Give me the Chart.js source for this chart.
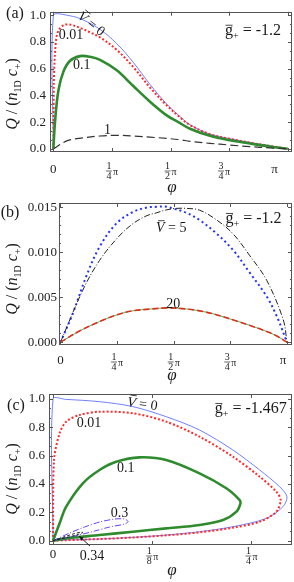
<!DOCTYPE html>
<html>
<head>
<meta charset="utf-8">
<script src="https://cdn.jsdelivr.net/npm/chart.js@4.4.1/dist/chart.umd.min.js"></script>
<style>
  html, body { margin: 0; padding: 0; background: #fff; }
  #wrap { position: relative; width: 294px; height: 582px; overflow: hidden; }
  .panel { position: absolute; left: 0; width: 294px; }
</style>
</head>
<body>
<div id="wrap">
  <div class="panel" style="top:0;height:195px"><canvas id="chart-a"></canvas></div>
  <div class="panel" style="top:192px;height:192px"><canvas id="chart-b"></canvas></div>
  <div class="panel" style="top:380px;height:202px"><canvas id="chart-c"></canvas></div>
</div>
<script>
const PI = Math.PI;
const SERIF = '"Liberation Serif", "Times New Roman", serif';

// =============== DATA ===============

// (a) g+ = -1.2
const aPhiV0 = [0, 0, 0.224, 0.40, 0.626, 0.85, 1.072, 1.296, 1.52, 1.70, 1.832, 2.10, 2.368, 2.636, 2.90, PI];
const aQV0   = [0, 1.0, 0.996, 0.965, 0.894, 0.788, 0.647, 0.482, 0.335, 0.24, 0.18, 0.11, 0.076, 0.047, 0.023, 0];
const aPhiV001 = [0, 0.004, 0.01, 0.036, 0.067, 0.134, 0.224, 0.358, 0.50, 0.626, 0.85, 1.072, 1.296, 1.52, 1.70, 1.832, 2.10, 2.368, 2.636, 2.90, PI];
const aQV001   = [0, 0.35, 0.576, 0.812, 0.883, 0.925, 0.93, 0.906, 0.87, 0.835, 0.741, 0.612, 0.459, 0.325, 0.235, 0.178, 0.109, 0.075, 0.046, 0.022, 0];
const aPhiV01 = [0, 0.022, 0.067, 0.134, 0.224, 0.358, 0.492, 0.626, 0.85, 1.072, 1.296, 1.52, 1.676, 1.832, 2.10, 2.368, 2.636, 2.90, PI];
const aQV01   = [0, 0.2, 0.435, 0.576, 0.659, 0.694, 0.689, 0.666, 0.588, 0.47, 0.353, 0.25, 0.2, 0.15, 0.097, 0.064, 0.04, 0.017, 0];
const aPhiV1 = [0, 0.18, 0.40, 0.626, 0.85, 1.072, 1.296, 1.52, 1.70, 1.832, 2.10, 2.368, 2.636, 2.90, PI];
const aQV1   = [0, 0.059, 0.082, 0.096, 0.101, 0.096, 0.087, 0.078, 0.068, 0.056, 0.041, 0.028, 0.016, 0.007, 0];

// (b) g+ = -1.2, large V
const bPhiV5a = [0, 0.171, 0.356, 0.541, 0.773, 1.005, 1.2, 1.33, 1.45, 1.56, 1.75, 1.93, 2.15, 2.39, 2.62, 2.86, 3.0, PI];
const bQV5a   = [0, 0.0032, 0.0073, 0.0106, 0.0132, 0.0145, 0.0150, 0.01507, 0.0151, 0.0149, 0.0144, 0.0136, 0.0122, 0.0103, 0.0078, 0.0051, 0.0029, 0];
const bPhiV5b = [0, 0.31, 0.541, 0.8, 1.005, 1.2, 1.33, 1.45, 1.6, 1.75, 1.93, 2.15, 2.39, 2.62, 2.86, 3.09, PI];
const bQV5b   = [0, 0.0058, 0.0091, 0.0117, 0.0132, 0.0141, 0.0144, 0.0147, 0.0149, 0.0149, 0.0147, 0.0137, 0.0121, 0.0097, 0.0069, 0.0025, 0];
const bPhiV20 = [0, 0.25, 0.54, 0.8, 1.0, 1.25, 1.5, 1.75, 1.93, 2.15, 2.39, 2.62, 2.86, 3.0, PI];
const bQV20   = [0, 0.0012, 0.0023, 0.0031, 0.0035, 0.0037, 0.00383, 0.0037, 0.0035, 0.0031, 0.0025, 0.0019, 0.0012, 0.0007, 0];

// (c) g+ = -1.467, closed loops
const cPhiV0 = [0, 0, 0.05, 0.184, 0.316, 0.448, 0.58, 0.712, 0.818, 0.897, 0.926, 0.91, 0.845, 0.712, 0.58, 0.448, 0.316, 0.184, 0.052, 0];
const cQV0   = [0, 1.0, 0.997, 0.981, 0.946, 0.875, 0.781, 0.64, 0.499, 0.381, 0.31, 0.24, 0.158, 0.099, 0.064, 0.04, 0.024, 0.012, 0.005, 0];
const cPhiV001 = [0, 0.004, 0.026, 0.052, 0.105, 0.184, 0.316, 0.448, 0.58, 0.712, 0.818, 0.884, 0.901, 0.884, 0.818, 0.712, 0.58, 0.448, 0.316, 0.184, 0.052, 0];
const cQV001   = [0, 0.57, 0.758, 0.84, 0.887, 0.91, 0.899, 0.84, 0.734, 0.593, 0.452, 0.346, 0.287, 0.205, 0.134, 0.092, 0.059, 0.038, 0.023, 0.012, 0.004, 0];
const cPhiV01 = [0, 0.026, 0.052, 0.118, 0.184, 0.25, 0.342, 0.448, 0.58, 0.686, 0.739, 0.742, 0.726, 0.673, 0.58, 0.448, 0.316, 0.184, 0.052, 0];
const cQV01   = [0, 0.123, 0.24, 0.405, 0.499, 0.557, 0.588, 0.569, 0.475, 0.37, 0.287, 0.264, 0.205, 0.146, 0.111, 0.087, 0.064, 0.04, 0.017, 0];
const cPhiV03 = [0, 0.065, 0.125, 0.184, 0.244, 0.283, 0.297, 0.283, 0.224, 0.164, 0.085, 0];
const cQV03   = [0, 0.054, 0.097, 0.132, 0.153, 0.153, 0.135, 0.118, 0.097, 0.068, 0.033, 0];
const cPhiV034 = [0, 0.04, 0.08, 0.11, 0.118, 0.1, 0.06, 0];
const cQV034   = [0, 0.025, 0.048, 0.06, 0.058, 0.045, 0.025, 0];

// ticks
const xTicksA = [0, PI / 4, PI / 2, 3 * PI / 4, PI];
const xLabelsA = ['0', '1/4', '1/2', '3/4', 'π'];
const xTicksC = [0, PI / 8, PI / 4];
const xLabelsC = ['0', '1/8', '1/4'];
const yTicksA = [0, 0.2, 0.4, 0.6, 0.8, 1.0];
const yTicksB = [0, 0.005, 0.010, 0.015];
const yMinorA = [1, 2, 4, 5, 7, 8, 10, 11, 13, 14].map(k => k / 15);
const yMinorB = [1, 2, 3, 4, 6, 7, 8, 9, 11, 12, 13, 14].map(k => k / 1000);

// =============== HELPERS ===============

function pts(xs, ys) {
  return xs.map((x, i) => ({ x, y: ys[i] }));
}

function line(label, xs, ys, color, width, dash, tension = 0.35) {
  return {
    label, data: pts(xs, ys), showLine: true, pointRadius: 0,
    borderColor: color, backgroundColor: color, borderWidth: width,
    borderDash: dash || [], tension, fill: false
  };
}

// draw text pieces left to right; p.bar draws a macron over the piece
function drawRich(ctx, parts, x, y, align) {
  let w = 0;
  parts.forEach(p => { ctx.font = p.font; p.w = ctx.measureText(p.text).width; w += p.w; });
  let cx = align === 'center' ? x - w / 2 : (align === 'right' ? x - w : x);
  parts.forEach(p => {
    ctx.font = p.font;
    ctx.fillText(p.text, cx, y + (p.dy || 0));
    if (p.bar) {
      ctx.beginPath();
      ctx.moveTo(cx + p.bar[0], y - p.bar[2]);
      ctx.lineTo(cx + p.w + p.bar[1], y - p.bar[2]);
      ctx.stroke();
    }
    cx += p.w;
  });
}

const f = (size, style) => `${style ? style + ' ' : ''}${size}px ${SERIF}`;

function vbar(val, size) {
  return [
    { text: 'V', font: f(size, 'italic'), bar: [2, 0, size * 0.82] },
    { text: ' = ' + val, font: f(size) }
  ];
}
function gbar(val) {
  return [
    { text: 'g', font: f(16), bar: [0.5, -0.5, 10] },
    { text: '+', font: f(10), dy: 4 },
    { text: ' = ' + val, font: f(16) }
  ];
}
const qTitle = [
  { text: 'Q', font: f(16, 'italic') },
  { text: ' / (', font: f(16) },
  { text: 'n', font: f(16, 'italic') },
  { text: '1D', font: f(10), dy: 4 },
  { text: ' c', font: f(16, 'italic') },
  { text: '+', font: f(10), dy: 4 },
  { text: ')', font: f(16) }
];

function drawXLabel(ctx, label, px, top) {
  ctx.fillStyle = '#222';
  ctx.strokeStyle = '#222';
  if (label.indexOf('/') < 0) {
    ctx.font = f(13);
    ctx.textAlign = 'center';
    ctx.fillText(label, px, top + 11);
    ctx.textAlign = 'left';
    return;
  }
  const [num, den] = label.split('/');
  ctx.font = f(10);
  const fw = Math.max(ctx.measureText(num).width, ctx.measureText(den).width) + 1;
  ctx.font = f(10, 'italic');
  const pw = ctx.measureText('π').width;
  const start = px - (fw + 1 + pw) / 2;
  ctx.font = f(10);
  ctx.textAlign = 'center';
  ctx.fillText(num, start + fw / 2, top + 7);
  ctx.fillText(den, start + fw / 2, top + 17);
  ctx.textAlign = 'left';
  ctx.lineWidth = 0.7;
  ctx.beginPath();
  ctx.moveTo(start, top + 9);
  ctx.lineTo(start + fw, top + 9);
  ctx.stroke();
  ctx.font = f(10);
  ctx.fillText('π', start + fw + 1, top + 13);
}

// frame, inward ticks, x labels, titles and notes
const decorPlugin = {
  id: 'decor',
  afterDraw(chart, args, o) {
    const { ctx, chartArea: a } = chart;
    const x = chart.scales.x, y = chart.scales.y;
    ctx.save();
    ctx.strokeStyle = '#555';
    ctx.lineWidth = 1;
    ctx.strokeRect(Math.round(a.left) + 0.5, Math.round(a.top) + 0.5,
      Math.round(a.right - a.left) - 1, Math.round(a.bottom - a.top) - 1);
    const seg = (x1, y1, x2, y2) => { ctx.beginPath(); ctx.moveTo(x1, y1); ctx.lineTo(x2, y2); ctx.stroke(); };
    o.xTicks.forEach(v => {
      const px = Math.round(x.getPixelForValue(v)) + 0.5;
      seg(px, a.bottom, px, a.bottom - 4);
      seg(px, a.top, px, a.top + 4);
    });
    o.yTicks.forEach(v => {
      const py = Math.round(y.getPixelForValue(v)) + 0.5;
      seg(a.left, py, a.left + 4, py);
      seg(a.right, py, a.right - 4, py);
    });
    o.yMinor.forEach(v => {
      const py = Math.round(y.getPixelForValue(v)) + 0.5;
      seg(a.left, py, a.left + 2, py);
      seg(a.right, py, a.right - 2, py);
    });

    // x tick labels
    o.xTicks.forEach((v, i) => {
      const shift = (o.xLabelShift && o.xLabelShift[i]) || 0;
      drawXLabel(ctx, o.xLabels[i], x.getPixelForValue(v) + shift, a.bottom + o.xLabelGap);
    });

    ctx.fillStyle = '#1a1a1a';
    ctx.strokeStyle = '#1a1a1a';
    ctx.lineWidth = 0.8;
    ctx.textBaseline = 'alphabetic';

    // axis titles
    ctx.font = f(17, 'italic');
    ctx.textAlign = 'center';
    ctx.fillText('φ', o.phiPos[0], o.phiPos[1]);
    ctx.textAlign = 'left';
    ctx.save();
    ctx.translate(o.qPos[0], o.qPos[1]);
    ctx.rotate(-PI / 2);
    drawRich(ctx, qTitle, 0, 0, 'center');
    ctx.restore();

    // panel tag
    ctx.font = f(16);
    ctx.textAlign = 'center';
    ctx.fillText(o.tag, o.tagPos[0], o.tagPos[1]);
    ctx.textAlign = 'left';

    // curve notes, placed in data coordinates
    o.notes.forEach(n => {
      ctx.save();
      ctx.translate(x.getPixelForValue(n.x), y.getPixelForValue(n.y));
      if (n.rot) ctx.rotate(n.rot * PI / 180);
      drawRich(ctx, n.parts, 0, 5, 'center');
      ctx.restore();
    });

    if (o.arrow) {
      const [x1, y1, x2, y2] = o.arrow;
      const sx = x.getPixelForValue(x1), sy = y.getPixelForValue(y1);
      const ex = x.getPixelForValue(x2), ey = y.getPixelForValue(y2);
      ctx.lineWidth = 1;
      seg(sx, sy, ex, ey);
      const ang = Math.atan2(ey - sy, ex - sx);
      ctx.beginPath();
      ctx.moveTo(ex, ey);
      ctx.lineTo(ex - 5 * Math.cos(ang - 0.4), ey - 5 * Math.sin(ang - 0.4));
      ctx.lineTo(ex - 5 * Math.cos(ang + 0.4), ey - 5 * Math.sin(ang + 0.4));
      ctx.closePath();
      ctx.fill();
    }
    ctx.restore();
  }
};

function makePanel(id, p) {
  return new Chart(document.getElementById(id).getContext('2d'), {
    type: 'scatter',
    data: { datasets: p.datasets },
    options: {
      responsive: true,
      maintainAspectRatio: false,
      animation: false,
      layout: { padding: { top: p.padTop, right: 2, left: 0, bottom: 0 } },
      plugins: { legend: { display: false }, tooltip: { enabled: false }, decor: p.decor },
      scales: {
        x: {
          type: 'linear', min: p.xMin, max: p.xMax,
          grid: { display: false, drawTicks: false }, border: { display: false },
          ticks: { display: false },
          afterBuildTicks: s => { s.ticks = p.decor.xTicks.map(v => ({ value: v })); },
          afterFit: s => { s.height = p.xHeight; }
        },
        y: {
          type: 'linear', min: p.yMin, max: p.yMax,
          grid: { display: false, drawTicks: false }, border: { display: false },
          ticks: {
            autoSkip: false, padding: p.yPad, color: '#222',
            font: { family: SERIF, size: 13 },
            callback: v => v.toFixed(p.yDigits)
          },
          afterBuildTicks: s => { s.ticks = p.decor.yTicks.map(v => ({ value: v })); },
          afterFit: s => { s.width = p.yWidth; }
        }
      }
    },
    plugins: [decorPlugin]
  });
}

// =============== PANELS ===============

makePanel('chart-a', {
  xMin: -0.045, xMax: 3.20, yMin: -0.024, yMax: 1.026,
  padTop: 3, xHeight: 43, yWidth: 50, yPad: 4, yDigits: 1,
  datasets: [
    line('V=1', aPhiV1, aQV1, '#333', 1.2, [8, 4]),
    line('V=0.1', aPhiV01, aQV01, '#2e8b2e', 2.6, []),
    line('V=0.01', aPhiV001, aQV001, '#ff2a2a', 2, [2, 2]),
    line('V=0', aPhiV0, aQV0, '#7080ff', 1, [])
  ],
  decor: {
    xTicks: xTicksA, xLabels: xLabelsA, yTicks: yTicksA, yMinor: yMinorA,
    xLabelGap: 10, xLabelShift: [0, 0, 0, -5, -13],
    phiPos: [172, 192], qPos: [17, 94], tag: '(a)', tagPos: [15, 18],
    notes: [
      { x: 0.515, y: 0.941, rot: 38, parts: vbar('0', 14) },
      { x: 0.235, y: 0.859, parts: [{ text: '0.01', font: f(14) }] },
      { x: 0.38, y: 0.636, parts: [{ text: '0.1', font: f(14) }] },
      { x: 0.727, y: 0.147, parts: [{ text: '1', font: f(14) }] },
      { x: 2.677, y: 0.888, parts: gbar('-1.2') }
    ]
  }
});

makePanel('chart-b', {
  xMin: -0.02, xMax: 3.211, yMin: -0.0003, yMax: 0.0155,
  padTop: 11, xHeight: 39, yWidth: 59, yPad: 2, yDigits: 3,
  datasets: [
    line('V=20 red', bPhiV20, bQV20, '#e0301c', 1.6, [6, 3]),
    line('V=20 green', bPhiV20, bQV20, '#55b055', 1, []),
    line('V=5 dashdot', bPhiV5b, bQV5b, '#222', 1, [6, 2, 1, 2]),
    line('V=5 dotted', bPhiV5a, bQV5a, '#2233ff', 2, [2, 3])
  ],
  decor: {
    xTicks: xTicksA, xLabels: xLabelsA, yTicks: yTicksB, yMinor: yMinorB,
    xLabelGap: 8, xLabelShift: [0, 0, 0, 0, -4],
    phiPos: [172, 188], qPos: [17, 87], tag: '(b)', tagPos: [10, 25],
    notes: [
      { x: 1.537, y: 0.01281, parts: vbar('5', 14) },
      { x: 1.563, y: 0.00433, parts: [{ text: '20', font: f(14) }] },
      { x: 2.677, y: 0.01378, parts: gbar('-1.2') }
    ]
  }
});

makePanel('chart-c', {
  xMin: -0.016, xMax: 0.946, yMin: -0.030, yMax: 1.035,
  padTop: 14, xHeight: 37, yWidth: 49, yPad: 4, yDigits: 1,
  datasets: [
    line('V=0.34', cPhiV034, cQV034, '#222', 1, [3, 2], 0.3),
    line('V=0.3', cPhiV03, cQV03, '#6040ff', 1, [6, 2, 1, 2], 0.3),
    line('V=0.1', cPhiV01, cQV01, '#2e8b2e', 2.6, [], 0.3),
    line('V=0.01', cPhiV001, cQV001, '#ff2a2a', 2, [2, 2], 0.3),
    line('V=0', cPhiV0, cQV0, '#7080ff', 1, [], 0.3)
  ],
  decor: {
    xTicks: xTicksC, xLabels: xLabelsC, yTicks: yTicksA, yMinor: yMinorA,
    xLabelGap: 2,
    phiPos: [172, 195], qPos: [17, 99], tag: '(c)', tagPos: [16, 30],
    arrow: [0.146, -0.037, 0.103, 0.033],
    notes: [
      { x: 0.354, y: 0.970, rot: 8, parts: vbar('0', 14) },
      { x: 0.142, y: 0.84, parts: [{ text: '0.01', font: f(14) }] },
      { x: 0.288, y: 0.522, parts: [{ text: '0.1', font: f(14) }] },
      { x: 0.263, y: 0.203, parts: [{ text: '0.3', font: f(14) }] },
      { x: 0.154, y: -0.102, parts: [{ text: '0.34', font: f(14) }] },
      { x: 0.783, y: 0.933, parts: gbar('-1.467') }
    ]
  }
});
</script>
</body>
</html>
